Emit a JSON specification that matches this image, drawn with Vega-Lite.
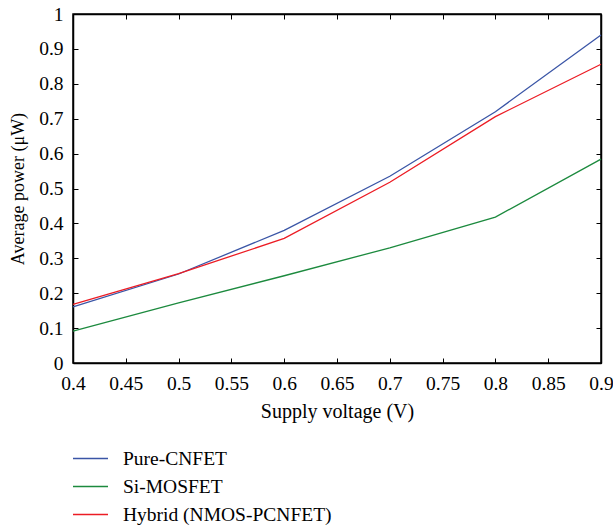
{
  "$schema": "https://vega.github.io/schema/vega-lite/v6.json",
  "width": 528,
  "height": 349,
  "autosize": {"type": "none"},
  "padding": {"left": 73, "top": 14, "right": 12, "bottom": 165},
  "background": "white",
  "config": {
    "font": "Liberation Serif",
    "view": {"stroke": "black", "strokeWidth": 1.5},
    "axis": {
      "domainColor": "black", "tickColor": "black", "labelColor": "black", "titleColor": "black",
      "labelFont": "Liberation Serif", "titleFont": "Liberation Serif",
      "labelFontSize": 19.5, "titleFontSize": 19, "titleFontWeight": "normal",
      "grid": false, "tickSize": -5, "domainWidth": 1.5, "tickWidth": 1
    }
  },
  "data": {"values": [
    {"v": 0.4, "p": 0.161, "s": "Pure-CNFET"},
    {"v": 0.5, "p": 0.255, "s": "Pure-CNFET"},
    {"v": 0.6, "p": 0.38, "s": "Pure-CNFET"},
    {"v": 0.7, "p": 0.535, "s": "Pure-CNFET"},
    {"v": 0.8, "p": 0.72, "s": "Pure-CNFET"},
    {"v": 0.9, "p": 0.94, "s": "Pure-CNFET"},
    {"v": 0.4, "p": 0.091, "s": "Si-MOSFET"},
    {"v": 0.5, "p": 0.172, "s": "Si-MOSFET"},
    {"v": 0.6, "p": 0.25, "s": "Si-MOSFET"},
    {"v": 0.7, "p": 0.33, "s": "Si-MOSFET"},
    {"v": 0.8, "p": 0.418, "s": "Si-MOSFET"},
    {"v": 0.9, "p": 0.584, "s": "Si-MOSFET"},
    {"v": 0.4, "p": 0.168, "s": "Hybrid (NMOS-PCNFET)"},
    {"v": 0.5, "p": 0.256, "s": "Hybrid (NMOS-PCNFET)"},
    {"v": 0.6, "p": 0.357, "s": "Hybrid (NMOS-PCNFET)"},
    {"v": 0.7, "p": 0.518, "s": "Hybrid (NMOS-PCNFET)"},
    {"v": 0.8, "p": 0.706, "s": "Hybrid (NMOS-PCNFET)"},
    {"v": 0.9, "p": 0.856, "s": "Hybrid (NMOS-PCNFET)"}
  ]},
  "layer": [
    {
      "mark": {"type": "line", "strokeWidth": 1.3},
      "encoding": {
        "x": {"field": "v", "type": "quantitative", "scale": {"domain": [0.4, 0.9], "nice": false, "zero": false},
          "axis": {"title": "Supply voltage (V)", "titleFontSize": 20, "format": "~g", "values": [0.4,0.45,0.5,0.55,0.6,0.65,0.7,0.75,0.8,0.85,0.9], "labelPadding": 16, "titlePadding": 9, "labelFlush": false, "labelOverlap": false}},
        "y": {"field": "p", "type": "quantitative", "scale": {"domain": [0, 1], "nice": false},
          "axis": {"title": "Average power (μW)", "titleFontSize": 18, "format": "~g", "values": [0,0.1,0.2,0.3,0.4,0.5,0.6,0.7,0.8,0.9,1], "labelPadding": 15, "titlePadding": 11, "labelFlush": false, "labelOverlap": false}},
        "color": {"field": "s", "type": "nominal",
          "scale": {"domain": ["Pure-CNFET", "Si-MOSFET", "Hybrid (NMOS-PCNFET)"], "range": ["#3a55a6", "#1c8a3e", "#ec1c24"]},
          "legend": {"title": null, "orient": "none", "legendX": -1, "legendY": 426, "symbolType": "stroke", "symbolSize": 1225, "symbolStrokeWidth": 1.3, "labelFontSize": 19.5, "labelFont": "Liberation Serif", "labelColor": "black", "rowPadding": -8, "labelOffset": 14, "labelLimit": 400}}
      }
    },
    {
      "mark": {"type": "line", "opacity": 0},
      "encoding": {
        "x": {"field": "v", "type": "quantitative", "scale": {"domain": [0.4, 0.9], "nice": false, "zero": false},
          "axis": {"orient": "top", "title": null, "labels": false, "values": [0.4,0.45,0.5,0.55,0.6,0.65,0.7,0.75,0.8,0.85,0.9]}},
        "y": {"field": "p", "type": "quantitative", "scale": {"domain": [0, 1], "nice": false},
          "axis": {"orient": "right", "title": null, "labels": false, "values": [0,0.1,0.2,0.3,0.4,0.5,0.6,0.7,0.8,0.9,1]}},
        "detail": {"field": "s"}
      }
    }
  ],
  "resolve": {"axis": {"x": "independent", "y": "independent"}}
}
